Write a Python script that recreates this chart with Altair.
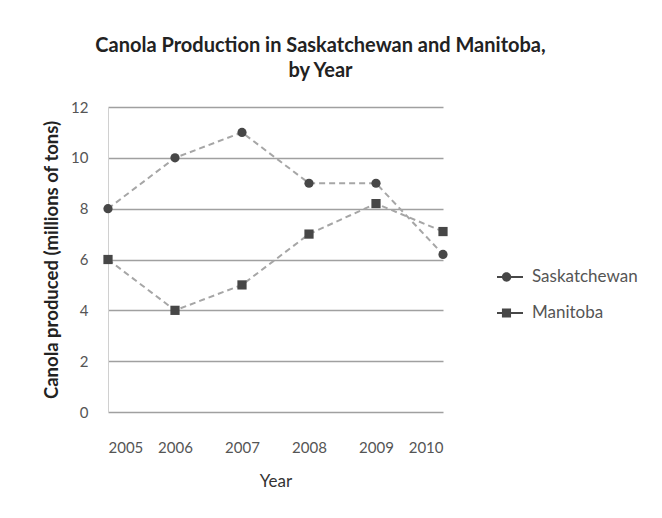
import altair as alt
import pandas as pd

# Canola production (millions of tons) by year
years = [2005, 2006, 2007, 2008, 2009, 2010]
saskatchewan = [8, 10, 11, 9, 9, 6.2]
manitoba = [6, 4, 5, 7, 8.2, 7.1]
series_names = ["Saskatchewan", "Manitoba"]
y_ticks = [0, 2, 4, 6, 8, 10, 12]

rows = []
for name, values in zip(series_names, [saskatchewan, manitoba]):
    for yr, v in zip(years, values):
        rows.append({"Year": yr, "Value": v, "Province": name})
df = pd.DataFrame(rows)

FONT = "Lato"
MARK = "#474747"

# Legend glyphs: a short bar (the line) with the series marker on it, as filled paths
bar = "M-1,-0.08L1,-0.08L1,0.08L-1,0.08Z"
circle_line = bar + "M0.1,0A0.36,0.36,0,1,1,-0.62,0A0.36,0.36,0,1,1,0.1,0Z"
square_line = bar + "M-0.62,-0.34L0.08,-0.34L0.08,0.34L-0.62,0.34Z"

base = alt.Chart(df).encode(
    x=alt.X(
        "Year:Q",
        scale=alt.Scale(domain=[2005, 2010], nice=False, zero=False),
        axis=alt.Axis(
            values=years, format="d", grid=False, ticks=False, domain=False,
            labelPadding=28, labelFontSize=15, labelColor="#555", labelFont=FONT,
            title="Year", titleFont=FONT, titleFontSize=17, titleFontWeight="normal",
            titleColor="#333", titlePadding=18,
        ),
    ),
    y=alt.Y(
        "Value:Q",
        scale=alt.Scale(domain=[0, 12], nice=False),
        axis=alt.Axis(
            values=y_ticks, grid=True, gridColor="#a0a0a0", gridWidth=1.5,
            ticks=False, domain=True, domainColor="#d0d0d0",
            labelPadding=20, labelFontSize=15, labelColor="#555", labelFont=FONT,
            title="Canola produced (millions of tons)", titleFont=FONT,
            titleFontSize=18.5, titleFontWeight="bold", titleColor="#222",
            titlePadding=9,
        ),
    ),
)

lines = base.mark_line(color="#a6a6a6", strokeWidth=2, strokeDash=[6, 4]).encode(
    detail="Province:N"
)

points = base.mark_point(filled=True, color=MARK, opacity=1, size=85).encode(
    shape=alt.Shape(
        "Province:N",
        scale=alt.Scale(domain=series_names, range=["circle", "square"]),
        legend=None,
    )
)

legend_layer = (
    alt.Chart(df)
    .transform_filter("false")
    .mark_point(filled=True, color=MARK, opacity=1)
    .encode(
        shape=alt.Shape(
            "Series:N",
            scale=alt.Scale(domain=series_names, range=[circle_line, square_line]),
            legend=alt.Legend(
                title=None, orient="none", legendX=388, legendY=156,
                symbolSize=676, symbolFillColor=MARK, symbolOpacity=1,
                labelFont=FONT, labelFontSize=17, labelColor="#555",
                rowPadding=14, labelOffset=8,
            ),
        )
    )
)

chart = (
    alt.layer(lines, points, legend_layer)
    .resolve_scale(shape="independent")
    .properties(
        width=335,
        height=305,
        autosize=alt.AutoSizeParams(type="none"),
        padding={"left": 108, "top": 107, "right": 219, "bottom": 106},
        background="white",
        title=alt.TitleParams(
            text=["Canola Production in Saskatchewan and Manitoba,", "by Year"],
            font=FONT, fontSize=20, fontWeight="bold", color="#222",
            anchor="middle", frame="group", dx=45, offset=19, lineHeight=25,
        ),
    )
    .configure_view(stroke=None)
)

chart.save("out.html", embed_options={"renderer": "svg", "actions": False})
